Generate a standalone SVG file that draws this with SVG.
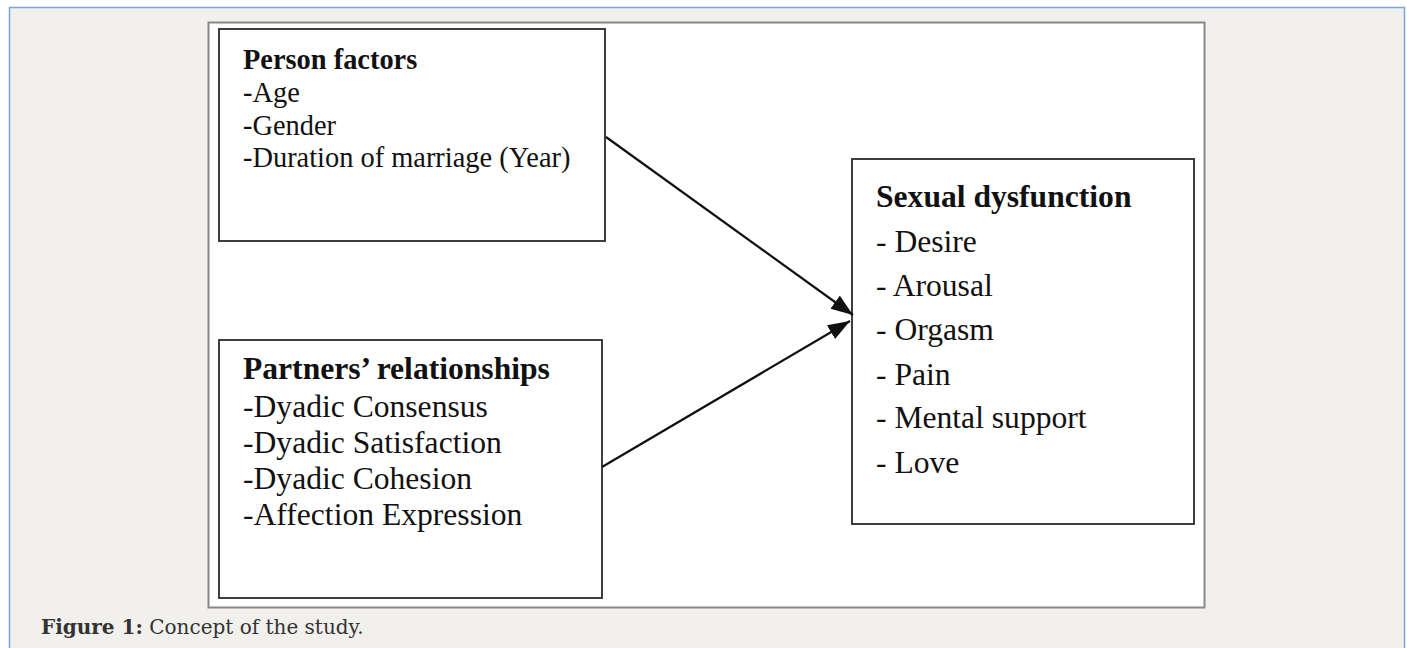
<svg xmlns="http://www.w3.org/2000/svg" width="1407" height="648" viewBox="0 0 1407 648">
<style>
.box{fill:#fff;stroke:#2a2a2a;stroke-width:1.8}
.t{font-family:"Liberation Serif","Times New Roman",serif;fill:#111}
.b{font-weight:bold}
.conn{stroke:#111;stroke-width:2.2;fill:none}
.cap{font-family:"DejaVu Serif",serif;fill:#333;font-size:20px}
</style>
<defs>
<marker id="ah" markerUnits="userSpaceOnUse" markerWidth="24" markerHeight="18" refX="22" refY="8" orient="auto">
<path d="M0,0 L22,8 L0,16 Z" fill="#111"/>
</marker>
</defs>
<rect x="0" y="0" width="1407" height="648" fill="#fff"/>
<rect x="9.5" y="7.5" width="1395" height="680" fill="#f1f0ed" stroke="#7ba4e0" stroke-width="1.5"/>
<rect x="208.5" y="22.5" width="996" height="585" fill="#fff" stroke="#888" stroke-width="2"/>
<g id="person-factors">
<rect class="box" x="219" y="29" width="386" height="212"/>
<text class="t" font-size="28.4" x="243" y="69"><tspan class="b">Person factors</tspan><tspan x="243" y="102">-Age</tspan><tspan x="243" y="135">-Gender</tspan><tspan x="243" y="167">-Duration of marriage (Year)</tspan></text>
</g>
<g id="partners-relationships">
<rect class="box" x="219" y="340" width="383" height="258"/>
<text class="t" font-size="31.6" x="243" y="379"><tspan class="b">Partners’ relationships</tspan><tspan x="243" y="417">-Dyadic Consensus</tspan><tspan x="243" y="453">-Dyadic Satisfaction</tspan><tspan x="243" y="489">-Dyadic Cohesion</tspan><tspan x="243" y="525">-Affection Expression</tspan></text>
</g>
<g id="sexual-dysfunction">
<rect class="box" x="852" y="159" width="342" height="365"/>
<text class="t" font-size="31.6" x="876" y="207"><tspan class="b">Sexual dysfunction</tspan><tspan x="876" y="252">- Desire</tspan><tspan x="876" y="296">- Arousal</tspan><tspan x="876" y="340">- Orgasm</tspan><tspan x="876" y="385">- Pain</tspan><tspan x="876" y="428">- Mental support</tspan><tspan x="876" y="473">- Love</tspan></text>
</g>
<g id="connectors">
<line class="conn" x1="606" y1="137" x2="853" y2="315" marker-end="url(#ah)"/>
<line class="conn" x1="602" y1="467" x2="850" y2="321" marker-end="url(#ah)"/>
</g>
<text class="cap" x="41" y="634"><tspan font-weight="bold">Figure 1:</tspan> Concept of the study.</text>
</svg>
